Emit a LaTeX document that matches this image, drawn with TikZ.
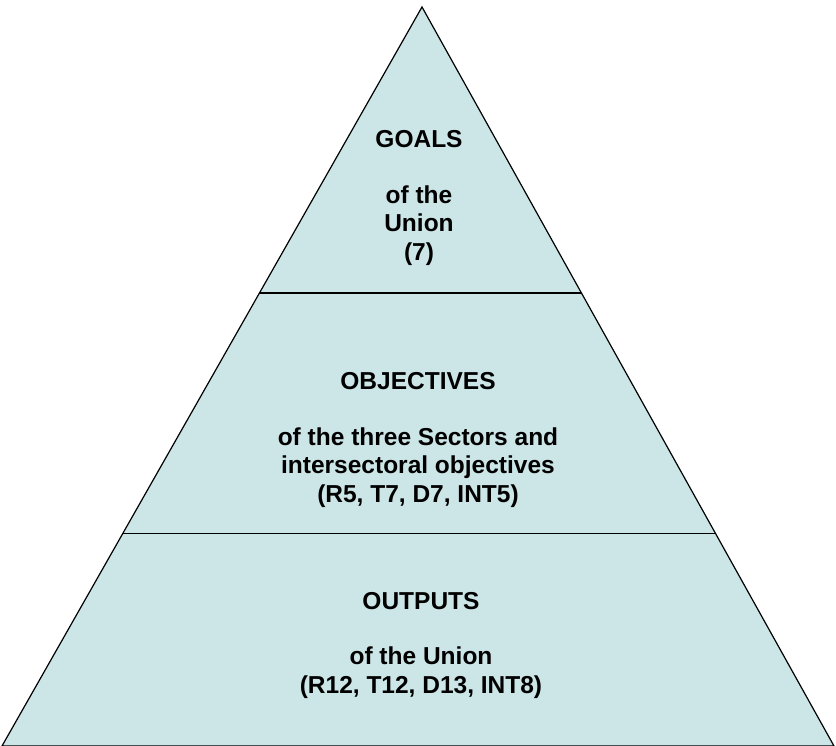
\documentclass[tikz,border=0pt]{standalone}
\usepackage{fontspec}
\setmainfont{Liberation Sans}
\usetikzlibrary{calc}
\definecolor{pyrfill}{RGB}{204,230,232}
\tikzset{
    level/.style={align=center,font=\fontsize{24.5}{28.5}\selectfont\bfseries},
}
\begin{document}
\begin{tikzpicture}[x=1pt,y=-1pt]
\useasboundingbox (0,0) rectangle (836,746);
\coordinate (apex) at (422,7);
\coordinate (bl) at (2,746);
\coordinate (br) at (834,746);
\filldraw[fill=pyrfill,line width=1.2pt,line join=miter] (apex)--(bl)--(br)--cycle;
\foreach \f/\name in {0.387/upper, 0.712/lower}
{
    \draw[line width=1.2pt] ($(apex)!\f!(bl)$) coordinate (\name l) -- ($(apex)!\f!(br)$) coordinate (\name r);
}
\node[level] (goals) at (419,198) {GOALS\\[27pt]of the\\Union\\(7)};
\node[level] (objectives) at (418,440) {OBJECTIVES\\[27pt]of the three Sectors and\\intersectoral objectives\\(R5, T7, D7, INT5)};
\node[level] (outputs) at (421,645) {OUTPUTS\\[27pt]of the Union\\(R12, T12, D13, INT8)};
\end{tikzpicture}
\end{document}
